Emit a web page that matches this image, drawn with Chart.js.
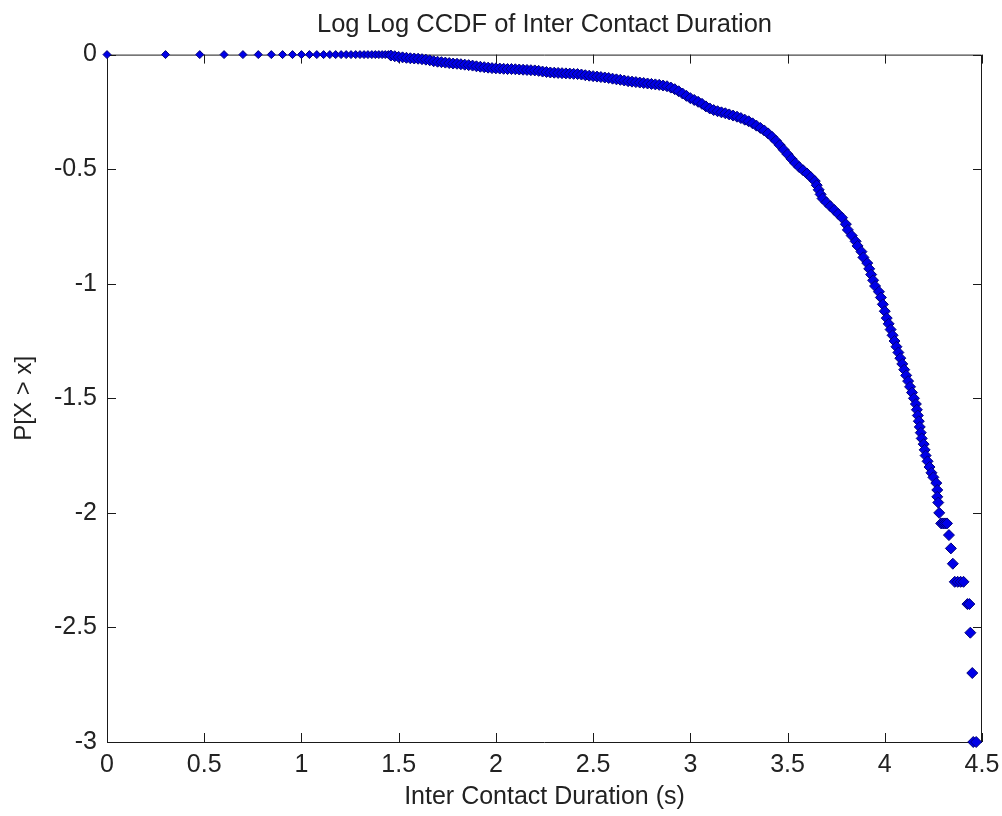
<!DOCTYPE html>
<html>
<head>
<meta charset="utf-8">
<title>Log Log CCDF of Inter Contact Duration</title>
<script src="https://cdn.jsdelivr.net/npm/chart.js@4/dist/chart.umd.min.js"></script>
<style>
    html, body { margin: 0; padding: 0; background: #fff; }
    canvas { display: block; }
</style>
</head>
<body>
<canvas id="ccdfChart" width="1002" height="816"></canvas>
<script>
// log10 of the inter contact duration (s)
const durationLog = [
    0, 0.301, 0.477, 0.602, 0.699, 0.778, 0.845, 0.903, 0.954, 1.000,
    1.041, 1.079, 1.114, 1.146, 1.176, 1.204, 1.230, 1.255, 1.279, 1.301,
    1.322, 1.342, 1.362, 1.380, 1.398, 1.415, 1.431, 1.447,
    1.46, 1.48, 1.50, 1.52, 1.54, 1.56, 1.58, 1.60, 1.62, 1.64,
    1.66, 1.68, 1.70, 1.72, 1.74, 1.76, 1.78, 1.80, 1.82, 1.84,
    1.86, 1.88, 1.90, 1.92, 1.94, 1.96, 1.98, 2.00, 2.02, 2.04,
    2.06, 2.08, 2.10, 2.12, 2.14, 2.16, 2.18, 2.20, 2.22, 2.24,
    2.26, 2.28, 2.30, 2.32, 2.34, 2.36, 2.38, 2.40, 2.42, 2.44,
    2.46, 2.48, 2.50, 2.52, 2.54, 2.56, 2.58, 2.60, 2.62, 2.64,
    2.66, 2.68, 2.70, 2.72, 2.74, 2.76, 2.78, 2.80, 2.82, 2.84,
    2.86, 2.88, 2.90, 2.92, 2.94, 2.96, 2.98, 3.00, 3.02, 3.04,
    3.06, 3.08, 3.10, 3.12, 3.14, 3.16, 3.18, 3.20, 3.22, 3.24,
    3.26, 3.28, 3.30, 3.32, 3.34, 3.36, 3.38, 3.40, 3.42, 3.44,
    3.46, 3.48, 3.50, 3.52, 3.54, 3.56, 3.58, 3.60, 3.62, 3.64,
    3.65, 3.66, 3.67, 3.68, 3.70, 3.72, 3.74, 3.76, 3.78, 3.80,
    3.81, 3.83, 3.85, 3.86, 3.88, 3.89, 3.91, 3.92, 3.93, 3.94,
    3.95, 3.97, 3.98, 3.99, 4.00, 4.01, 4.02, 4.03, 4.04, 4.05,
    4.06, 4.07, 4.08, 4.09, 4.10, 4.11, 4.12, 4.13, 4.14, 4.15,
    4.16, 4.165, 4.17, 4.175, 4.18, 4.185, 4.19, 4.20, 4.205, 4.21,
    4.22, 4.23, 4.24, 4.25, 4.265, 4.27, 4.27, 4.275, 4.28,
    4.29, 4.30, 4.31, 4.32, 4.33, 4.34, 4.35,
    4.36, 4.375, 4.39, 4.405, 4.425, 4.435, 4.44, 4.45, 4.455, 4.47
];

// log10 of P[X > x]
const ccdfLog = [
    0, 0, 0, 0, 0, 0, 0, 0, 0, 0,
    0, 0, 0, 0, 0, 0, 0, 0, 0, 0,
    0, 0, 0, 0, 0, 0, 0, 0,
    -0.004, -0.007, -0.010, -0.012, -0.014, -0.016, -0.017, -0.018, -0.020, -0.022,
    -0.025, -0.029, -0.031, -0.033, -0.035, -0.037, -0.039, -0.040, -0.042, -0.044,
    -0.046, -0.048, -0.051, -0.053, -0.055, -0.057, -0.059, -0.060, -0.061, -0.062,
    -0.063, -0.063, -0.064, -0.065, -0.066, -0.067, -0.068, -0.069, -0.071, -0.074,
    -0.076, -0.078, -0.079, -0.080, -0.081, -0.082, -0.083, -0.084, -0.085, -0.087,
    -0.090, -0.092, -0.094, -0.096, -0.098, -0.100, -0.102, -0.105, -0.108, -0.110,
    -0.113, -0.116, -0.118, -0.120, -0.122, -0.124, -0.126, -0.128, -0.130, -0.132,
    -0.135, -0.138, -0.144, -0.151, -0.160, -0.170, -0.180, -0.190, -0.198, -0.206,
    -0.215, -0.226, -0.235, -0.242, -0.247, -0.252, -0.256, -0.261, -0.266, -0.271,
    -0.277, -0.284, -0.291, -0.300, -0.310, -0.320, -0.331, -0.344, -0.359, -0.376,
    -0.395, -0.415, -0.435, -0.455, -0.474, -0.491, -0.505, -0.519, -0.535, -0.552,
    -0.570, -0.590, -0.610, -0.628, -0.645, -0.662, -0.678, -0.695, -0.712, -0.740,
    -0.765, -0.790, -0.815, -0.835, -0.860, -0.885, -0.910, -0.935, -0.960, -0.985,
    -1.010, -1.035, -1.060, -1.090, -1.120, -1.150, -1.175, -1.200, -1.225, -1.250,
    -1.275, -1.300, -1.325, -1.350, -1.375, -1.400, -1.425, -1.450, -1.475, -1.500,
    -1.525, -1.550, -1.575, -1.600, -1.625, -1.650, -1.675, -1.700, -1.725, -1.750,
    -1.775, -1.800, -1.825, -1.845, -1.870, -1.900, -1.930, -1.955, -2.000,
    -2.046, -2.046, -2.046, -2.046, -2.097, -2.155, -2.222,
    -2.301, -2.301, -2.301, -2.301, -2.398, -2.398, -2.523, -2.699, -3.000, -3.000
];

const xTicks = [0, 0.5, 1, 1.5, 2, 2.5, 3, 3.5, 4, 4.5];
const yTicks = [0, -0.5, -1, -1.5, -2, -2.5, -3];

const textColor = '#222';
const fontFamily = '"Liberation Sans", Arial, Helvetica, sans-serif';

// matlab-like box around the axes with inward ticks on every side
const axesBox = {
    id: 'axesBox',
    beforeDatasetsDraw(chart) {
        const {ctx, chartArea: a, scales: {x, y}} = chart;
        const len = 9;
        ctx.save();
        ctx.strokeStyle = '#1a1a1a';
        ctx.lineWidth = 1;
        ctx.beginPath();
        ctx.rect(a.left + 0.5, a.top + 0.5, a.right - a.left - 1, a.bottom - a.top);
        xTicks.forEach(v => {
            const px = Math.round(x.getPixelForValue(v)) + 0.5;
            ctx.moveTo(px, a.bottom);
            ctx.lineTo(px, a.bottom - len);
            ctx.moveTo(px, a.top);
            ctx.lineTo(px, a.top + len);
        });
        yTicks.forEach(v => {
            const py = Math.round(y.getPixelForValue(v)) + 0.5;
            ctx.moveTo(a.left, py);
            ctx.lineTo(a.left + len, py);
            ctx.moveTo(a.right, py);
            ctx.lineTo(a.right - len, py);
        });
        ctx.stroke();
        ctx.restore();
    }
};

const points = durationLog.map((d, i) => ({x: d, y: ccdfLog[i]}));

new Chart(document.getElementById('ccdfChart'), {
    type: 'scatter',
    data: {
        datasets: [{
            data: points,
            pointStyle: 'rectRot',
            // the lone points along the top are drawn a little smaller
            pointRadius: c => (c.raw && c.raw.y === 0 ? 4 : 5.5),
            pointBorderWidth: 1,
            backgroundColor: '#0000e8',
            borderColor: '#00007a',
            showLine: false,
            clip: false
        }]
    },
    options: {
        responsive: false,
        animation: false,
        layout: {padding: {left: 0, right: 20, top: 0, bottom: 0}},
        plugins: {
            legend: {display: false},
            tooltip: {enabled: false},
            title: {
                display: true,
                text: 'Log Log CCDF of Inter Contact Duration',
                fullSize: false,
                color: textColor,
                font: {family: fontFamily, size: 25.5, weight: 'normal'},
                padding: {top: 10, bottom: 14}
            }
        },
        scales: {
            x: {
                type: 'linear',
                min: 0,
                max: 4.5,
                afterBuildTicks: s => { s.ticks = xTicks.map(v => ({value: v})); },
                afterFit: s => {
                    s.height = 74;
                    s.paddingLeft = 0;
                    s.paddingRight = 0;
                },
                grid: {display: false, drawTicks: false},
                border: {display: false},
                ticks: {
                    color: textColor,
                    font: {family: fontFamily, size: 25},
                    padding: 8,
                    maxRotation: 0,
                    autoSkip: false,
                    callback: v => String(v)
                },
                title: {
                    display: true,
                    text: 'Inter Contact Duration (s)',
                    color: textColor,
                    font: {family: fontFamily, size: 25},
                    padding: {top: 0, bottom: 4}
                }
            },
            y: {
                type: 'linear',
                min: -3,
                max: 0,
                afterBuildTicks: s => { s.ticks = yTicks.map(v => ({value: v})); },
                afterFit: s => { s.width = 107; },
                grid: {display: false, drawTicks: false},
                border: {display: false},
                ticks: {
                    color: textColor,
                    font: {family: fontFamily, size: 25},
                    padding: 10,
                    autoSkip: false,
                    callback: v => String(v)
                },
                title: {
                    display: true,
                    text: 'P[X > x]',
                    color: textColor,
                    font: {family: fontFamily, size: 24},
                    padding: {top: 10, bottom: 0}
                }
            }
        }
    },
    plugins: [axesBox]
});
</script>
</body>
</html>
